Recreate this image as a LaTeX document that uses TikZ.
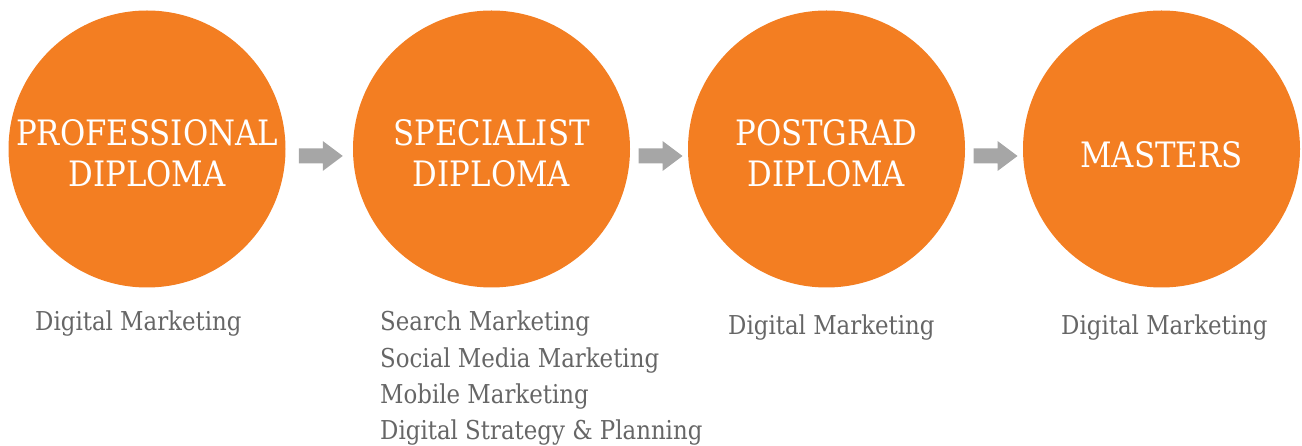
\documentclass[tikz,border=0pt]{standalone}
\usepackage{fontspec}
\setmainfont{DejaVu Serif}[FakeStretch=0.88]
\definecolor{stageorange}{HTML}{F37E22}
\definecolor{arrowgray}{HTML}{A6A6A6}
\definecolor{labelgray}{HTML}{666666}
\tikzset{
  stage/.style={circle, fill=stageorange, minimum size=277pt, inner sep=0pt},
  stagetext/.style={text=white, align=center, inner sep=0pt, font=\fontsize{35}{41}\selectfont},
  course/.style={text=labelgray, anchor=base west, inner sep=0pt, font=\fontsize{26}{36}\selectfont},
}
\begin{document}
\begin{tikzpicture}[x=1pt, y=-1pt]
  \useasboundingbox (0,0) rectangle (1302,446);
  % Stages
  \node[stage] (prof) at (147,149) {};
  \node[stage] (spec) at (491.5,149) {};
  \node[stage] (post) at (826.5,149) {};
  \node[stage] (mast) at (1161.5,149) {};
  \node[stagetext] (prof-text) at (147,153.5) {PROFESSIONAL\\DIPLOMA};
  \node[stagetext] (spec-text) at (491.5,153.5) {SPECIALIST\\DIPLOMA};
  \node[stagetext] (post-text) at (826.5,153.5) {POSTGRAD\\DIPLOMA};
  \node[stagetext] (mast-text) at (1161.5,154.5) {MASTERS};
  % Arrows between stages
  \foreach \a/\b in {prof/spec, spec/post, post/mast} {
    \path (\a.east) -- (\b.west) coordinate[pos=0.5] (\a-arrow);
    \fill[arrowgray] (\a-arrow) ++(-20.5,-0.5) -- ++(24,0) -- ++(0,-7.5)
      -- ++(20,15) -- ++(-20,15) -- ++(0,-7.5) -- ++(-24,0) -- cycle;
  }
  % Courses
  \node[course] (prof-course) at (35,331) {Digital Marketing};
  \foreach \line [count=\i] in {Search Marketing, Social Media Marketing,
      Mobile Marketing, Digital Strategy \& Planning}
    \node[course] (spec-course-\i) at (380,{331+36.3*(\i-1)}) {\line};
  \node[course] (post-course) at (728,335) {Digital Marketing};
  \node[course] (mast-course) at (1061,335) {Digital Marketing};
\end{tikzpicture}
\end{document}
